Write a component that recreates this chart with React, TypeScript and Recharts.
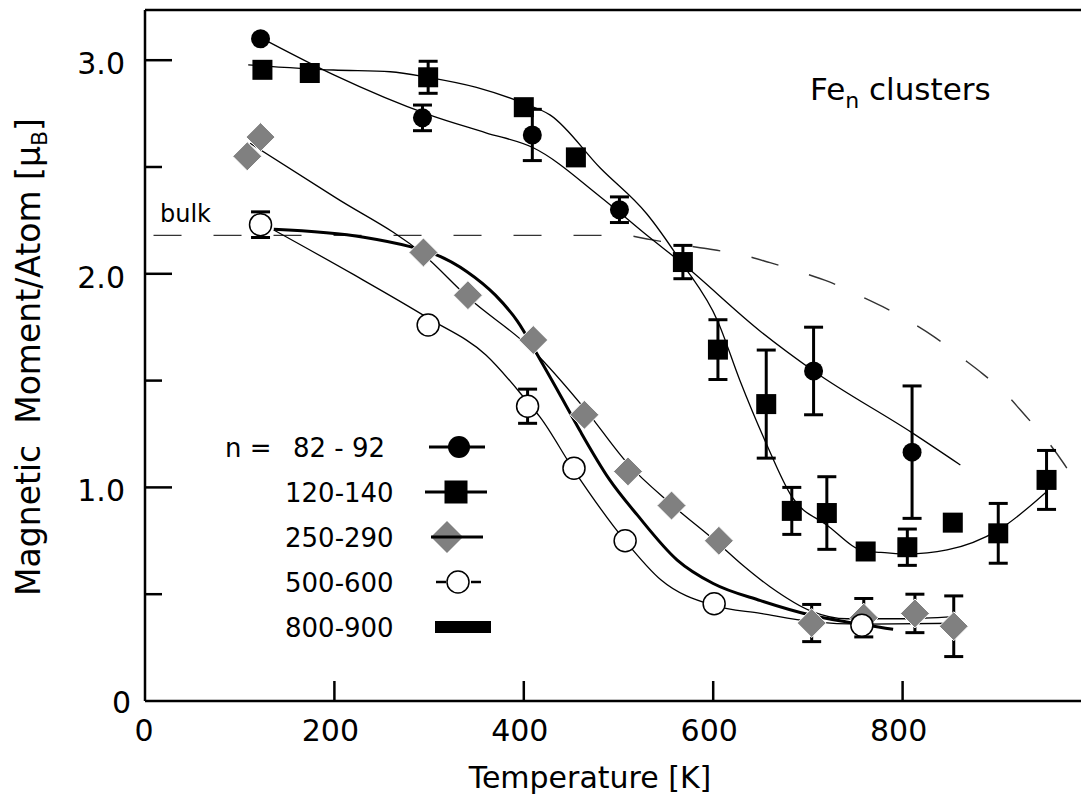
import React from 'react';
import {
  ComposedChart,
  Line,
  Scatter,
  XAxis,
  YAxis,
  ErrorBar,
  ReferenceLine,
} from 'recharts';

const FONT = '"DejaVu Sans", "Liberation Sans", sans-serif';
const Y_MAX = 3.235;

// n = 82-92 (filled circles)
const c82T = [122, 293, 409, 501, 706, 810];
const c82M = [3.1, 2.73, 2.65, 2.3, 1.545, 1.165];
const c82E = [0, 0.06, 0.12, 0.06, 0.205, 0.31];

// n = 120-140 (filled squares)
const s120T = [124, 174, 299, 400, 455, 568, 605, 656, 683, 720, 761, 805, 853, 901, 952];
const s120M = [2.955, 2.94, 2.92, 2.78, 2.545, 2.055, 1.645, 1.39, 0.89, 0.88, 0.7, 0.72, 0.835, 0.785, 1.035];
const s120E = [0, 0, 0.075, 0, 0, 0.078, 0.14, 0.253, 0.11, 0.17, 0, 0.085, 0, 0.14, 0.138];

// n = 250-290 (grey diamonds)
const d250T = [108, 122, 294, 341, 410, 464, 510, 556, 606, 704, 759, 813, 854];
const d250M = [2.55, 2.64, 2.1, 1.9, 1.69, 1.34, 1.075, 0.915, 0.75, 0.365, 0.39, 0.41, 0.35];
const d250E = [0, 0, 0, 0, 0, 0, 0, 0, 0, 0.087, 0.09, 0.09, 0.142];

// n = 500-600 (open circles)
const o500T = [122, 299, 404, 453, 507, 601, 757];
const o500M = [2.23, 1.76, 1.38, 1.09, 0.75, 0.455, 0.355];
const o500E = [0.06, 0, 0.08, 0, 0, 0, 0];

// smooth guide curves
const fit82T = [130, 200, 301, 360, 410, 481, 530, 567, 650, 706, 811, 861];
const fit82M = [3.087, 2.93, 2.743, 2.66, 2.59, 2.36, 2.18, 2.05, 1.73, 1.545, 1.253, 1.105];

const fit120T = [109, 199, 259, 299, 350, 400, 428, 481, 530, 567, 605, 628, 656, 683, 720, 761, 777, 805, 847, 901, 952];
const fit120M = [2.978, 2.954, 2.946, 2.92, 2.873, 2.798, 2.743, 2.494, 2.28, 2.05, 1.776, 1.503, 1.206, 0.957, 0.824, 0.7, 0.696, 0.688, 0.707, 0.8, 0.98];

const fit250T = [111, 200, 294, 341, 410, 464, 510, 556, 606, 630, 660, 704, 741, 800, 854];
const fit250M = [2.611, 2.36, 2.09, 1.89, 1.64, 1.37, 1.11, 0.92, 0.735, 0.64, 0.535, 0.42, 0.385, 0.385, 0.395];

const fit500T = [136, 220, 300, 360, 404, 417, 453, 507, 545, 601, 650, 704, 757, 857];
const fit500M = [2.205, 1.997, 1.79, 1.62, 1.4, 1.33, 1.08, 0.75, 0.566, 0.446, 0.41, 0.372, 0.36, 0.364];

const fit800T = [136, 231, 280, 304, 340, 370, 393, 417, 440, 460, 490, 520, 562, 600, 650, 705, 741, 790];
const fit800M = [2.208, 2.171, 2.127, 2.096, 2.01, 1.9, 1.78, 1.6, 1.42, 1.26, 1.04, 0.87, 0.66, 0.55, 0.47, 0.4, 0.37, 0.336];

// bulk Fe
const bulkT = [9, 100, 200, 300, 400, 480, 505, 534, 567, 597, 631, 660, 691, 722, 751, 779, 808, 833, 861, 884, 910, 930, 952, 970, 988];
const bulkM = [2.18, 2.18, 2.18, 2.18, 2.18, 2.18, 2.18, 2.16, 2.135, 2.115, 2.088, 2.052, 2.01, 1.963, 1.905, 1.846, 1.776, 1.706, 1.612, 1.534, 1.433, 1.334, 1.222, 1.113, 0.988];

const xTicks = [0, 200, 400, 600, 800];
const yTicks = [0, 0.5, 1, 1.5, 2, 2.5, 3];
const sizeNames = ['82 - 92', '120-140', '250-290', '500-600', '800-900'];

const zip = (t: number[], m: number[], e?: number[]) =>
  t.map((v, i) => ({ t: v, m: m[i], e: e ? e[i] : 0 }));

const DotShape = (p: any) => <circle cx={p.cx} cy={p.cy} r={9.5} fill="#000" />;
const SquareShape = (p: any) => (
  <rect x={p.cx - 10} y={p.cy - 10} width={20} height={20} fill="#000" />
);
const DiamondShape = (p: any) => (
  <polygon
    points={`${p.cx},${p.cy - 14.5} ${p.cx + 14.5},${p.cy} ${p.cx},${p.cy + 14.5} ${p.cx - 14.5},${p.cy}`}
    fill="#808080"
    stroke="#fff"
    strokeWidth={1}
  />
);
const RingShape = (p: any) => (
  <circle cx={p.cx} cy={p.cy} r={11} fill="#fff" stroke="#000" strokeWidth={1.5} />
);

function XTick(props: any) {
  const { x, y, payload } = props;
  const v = payload.value;
  return (
    <g>
      {v !== 0 && <line x1={x} x2={x} y1={y} y2={y - 20} stroke="#000" strokeWidth={2.5} />}
      <text x={v === 0 ? x - 1 : x - 4} y={y + 40} textAnchor="middle" fontSize={30} fontFamily={FONT} fill="#000">
        {v}
      </text>
    </g>
  );
}

function YTick(props: any) {
  const { x, y, payload } = props;
  const v = payload.value;
  const major = Number.isInteger(v);
  return (
    <g>
      {v !== 0 && <line x1={x} x2={x + (major ? 27 : 17)} y1={y} y2={y} stroke="#000" strokeWidth={2.5} />}
      {major && (
        <text x={v === 0 ? x - 14 : x - 20} y={v === 0 ? y + 12 : y + 14} textAnchor="end" fontSize={30} fontFamily={FONT} fill="#000">
          {v === 0 ? '0' : v.toFixed(1)}
        </text>
      )}
    </g>
  );
}

function Overlay() {
  const rowY = (i: number) => 447 + i * 45;
  return (
    <svg width={1081} height={797} style={{ position: 'absolute', left: 0, top: 0, pointerEvents: 'none' }}>
      <g fontFamily={FONT} fill="#000">
        <text x={40} y={357} transform="rotate(-90 40 357)" textAnchor="middle" fontSize={33}>
          {'Magnetic\u00a0 Moment/Atom [\u03bc'}
          <tspan fontSize={22} dy={7}>B</tspan>
          <tspan dy={-7}>]</tspan>
        </text>
        <text x={590} y={788} textAnchor="middle" fontSize={30}>Temperature [K]</text>
        <text x={810} y={100} fontSize={31}>
          Fe<tspan fontSize={22} dy={8}>n</tspan>
          <tspan dy={-8}>{'\u00a0clusters'}</tspan>
        </text>
        <text x={160} y={222} fontSize={24}>bulk</text>

        <text x={225} y={rowY(0) + 9.5} fontSize={26}>n =</text>
        {sizeNames.map((s, i) => (
          <text key={s} x={i === 0 ? 293 : 285} y={rowY(i) + 9.5} fontSize={26}>{s}</text>
        ))}
      </g>
      {/* legend symbols */}
      <line x1={429} x2={485} y1={rowY(0)} y2={rowY(0)} stroke="#000" strokeWidth={3} />
      <circle cx={459} cy={rowY(0)} r={11} fill="#000" />
      <line x1={425} x2={487} y1={rowY(1)} y2={rowY(1)} stroke="#000" strokeWidth={3} />
      <rect x={444.5} y={rowY(1) - 11.5} width={23} height={23} fill="#000" />
      <polygon
        points={`447,${rowY(2) - 16} 463,${rowY(2)} 447,${rowY(2) + 16} 431,${rowY(2)}`}
        fill="#808080"
      />
      <line x1={431} x2={483} y1={rowY(2)} y2={rowY(2)} stroke="#000" strokeWidth={3} />
      <line x1={436} x2={446} y1={rowY(3)} y2={rowY(3)} stroke="#000" strokeWidth={2.5} />
      <line x1={471} x2={481} y1={rowY(3)} y2={rowY(3)} stroke="#000" strokeWidth={2.5} />
      <circle cx={458} cy={rowY(3)} r={11} fill="#fff" stroke="#000" strokeWidth={1.5} />
      <rect x={435} y={rowY(4) - 6} width={56} height={12} fill="#000" />
    </svg>
  );
}

export default function App() {
  return (
    <div style={{ position: 'absolute', left: 0, top: 0, width: 1081, height: 797, overflow: 'hidden', background: '#fff' }}>
      <ComposedChart
        width={1100}
        height={797}
        margin={{ top: 10, right: 8, bottom: 0, left: 0 }}
        style={{ fontFamily: FONT }}
      >
        <XAxis
          type="number"
          dataKey="t"
          domain={[0, 1000]}
          ticks={xTicks}
          interval={0}
          height={96}
          tickSize={0}
          tickMargin={0}
          axisLine={{ stroke: '#000', strokeWidth: 2.5 }}
          tickLine={false}
          tick={(p: any) => <XTick {...p} />}
        />
        <YAxis
          type="number"
          dataKey="m"
          domain={[0, Y_MAX]}
          ticks={yTicks}
          interval={0}
          width={145}
          tickSize={0}
          tickMargin={0}
          axisLine={{ stroke: '#000', strokeWidth: 2.5 }}
          tickLine={false}
          tick={(p: any) => <YTick {...p} />}
        />
        <ReferenceLine y={Y_MAX} stroke="#000" strokeWidth={2.5} />

        <Line data={zip(bulkT, bulkM)} dataKey="m" type="monotone" stroke="#333" strokeWidth={1.4} strokeDasharray="28 32" dot={false} activeDot={false} isAnimationActive={false} />
        <Line data={zip(fit82T, fit82M)} dataKey="m" type="monotone" stroke="#000" strokeWidth={1.3} dot={false} activeDot={false} isAnimationActive={false} />
        <Line data={zip(fit120T, fit120M)} dataKey="m" type="monotone" stroke="#000" strokeWidth={1.3} dot={false} activeDot={false} isAnimationActive={false} />
        <Line data={zip(fit250T, fit250M)} dataKey="m" type="monotone" stroke="#000" strokeWidth={1.3} dot={false} activeDot={false} isAnimationActive={false} />
        <Line data={zip(fit500T, fit500M)} dataKey="m" type="monotone" stroke="#000" strokeWidth={1.3} dot={false} activeDot={false} isAnimationActive={false} />
        <Line data={zip(fit800T, fit800M)} dataKey="m" type="monotone" stroke="#000" strokeWidth={3} dot={false} activeDot={false} isAnimationActive={false} />

        <Scatter data={zip(d250T, d250M, d250E)} dataKey="m" shape={DiamondShape} isAnimationActive={false}>
          <ErrorBar dataKey="e" direction="y" width={9.5} stroke="#000" strokeWidth={3} />
        </Scatter>
        <Scatter data={zip(o500T, o500M, o500E)} dataKey="m" shape={RingShape} isAnimationActive={false}>
          <ErrorBar dataKey="e" direction="y" width={9.5} stroke="#000" strokeWidth={3} />
        </Scatter>
        <Scatter data={zip(s120T, s120M, s120E)} dataKey="m" shape={SquareShape} isAnimationActive={false}>
          <ErrorBar dataKey="e" direction="y" width={9.5} stroke="#000" strokeWidth={3} />
        </Scatter>
        <Scatter data={zip(c82T, c82M, c82E)} dataKey="m" shape={DotShape} isAnimationActive={false}>
          <ErrorBar dataKey="e" direction="y" width={9.5} stroke="#000" strokeWidth={3} />
        </Scatter>
      </ComposedChart>
      <Overlay />
    </div>
  );
}
